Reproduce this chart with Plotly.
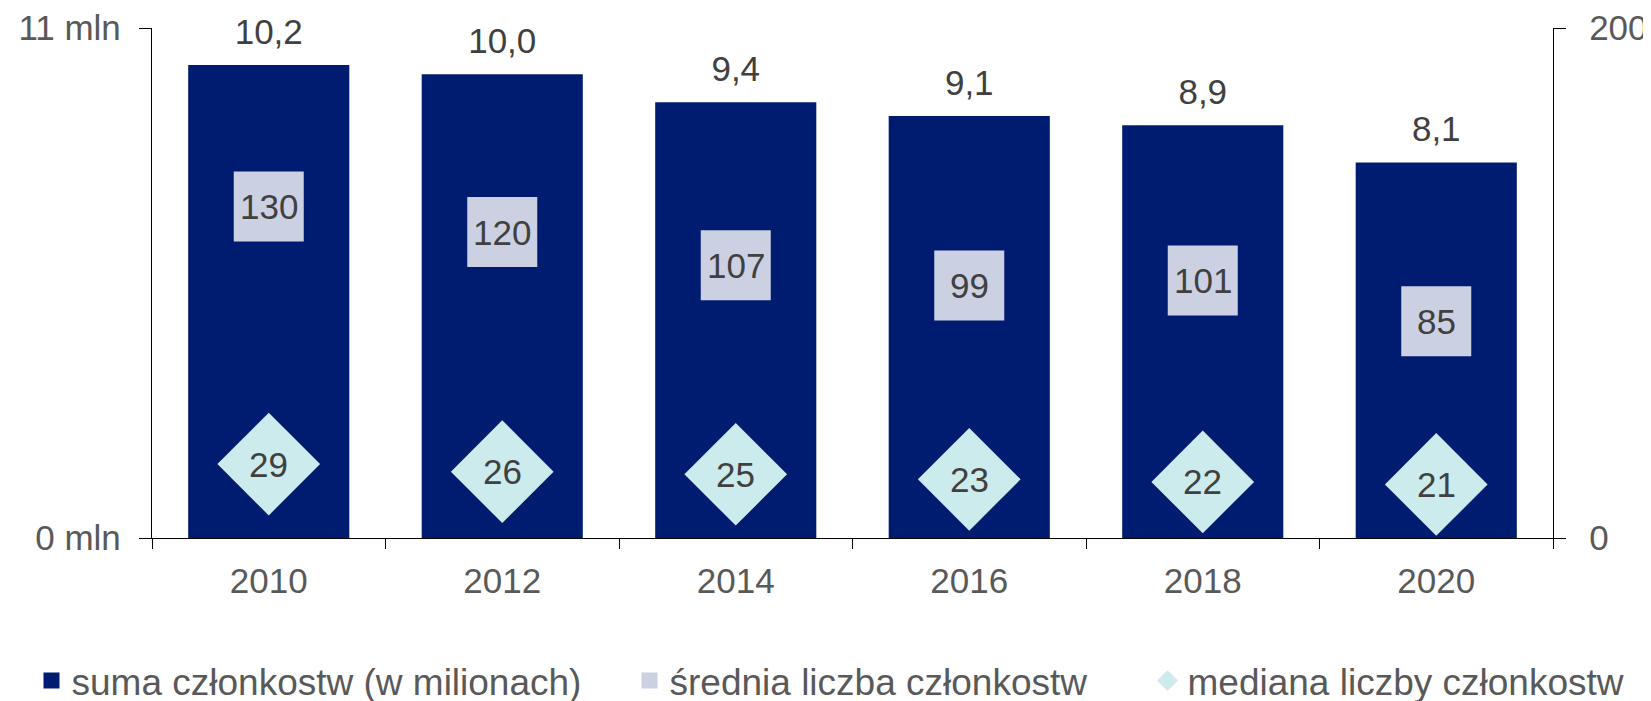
import plotly.graph_objects as go

years = ["2010", "2012", "2014", "2016", "2018", "2020"]
total_mln = [10.2, 10.0, 9.4, 9.1, 8.9, 8.1]
average = [130, 120, 107, 99, 101, 85]
median = [29, 26, 25, 23, 22, 21]

left_ticks = [0, 11]
left_ticktext = ["0 mln", "11 mln"]
right_ticks = [0, 200]

names = ["suma członkostw (w milionach)", "średnia liczba członkostw", "mediana liczby członkostw"]

NAVY = "#001C71"
LAV = "#CCD0E3"
MINT = "#CCEBEC"
LABEL = "#404040"
TICK = "#595959"
FONT = "Liberation Sans, Arial, sans-serif"

# page body has an 8px default margin; size the figure so it fills the 1651x701 window
OFF = 8
W, H = 1651 - OFF, 701 - OFF

fig = go.Figure()

fig.add_trace(go.Bar(
    x=years, y=total_mln, marker=dict(color=NAVY, line=dict(width=0)),
    width=0.69, showlegend=False, yaxis="y", hoverinfo="skip"))

# value labels above bars
fig.add_trace(go.Scatter(
    x=years, y=total_mln, yaxis="y", mode="markers+text",
    marker=dict(size=18, opacity=0, color=NAVY),
    text=[f"{v:.1f}".replace(".", ",") for v in total_mln],
    textposition="top center", cliponaxis=False, showlegend=False,
    textfont=dict(size=35, color=LABEL, family=FONT), hoverinfo="skip"))

# legend proxy for bars
fig.add_trace(go.Scatter(
    x=[None], y=[None], mode="markers", name=names[0],
    marker=dict(symbol="square", size=16, color=NAVY), legend="legend"))

fig.add_trace(go.Scatter(
    x=years, y=average, yaxis="y2", mode="markers", name=names[1],
    marker=dict(symbol="square", size=70, color=LAV, line=dict(width=0)),
    cliponaxis=False, legend="legend2", hoverinfo="skip"))

fig.add_trace(go.Scatter(
    x=years, y=median, yaxis="y2", mode="markers", name=names[2],
    marker=dict(symbol="diamond", size=79, color=MINT, line=dict(width=0)),
    cliponaxis=False, legend="legend3", hoverinfo="skip"))

annotations = []
for i, (a, m) in enumerate(zip(average, median)):
    for v in (a, m):
        annotations.append(dict(
            x=i, y=v, xref="x", yref="y2", text=str(v), showarrow=False,
            xanchor="center", yanchor="middle", yshift=0,
            font=dict(size=35, color=LABEL, family=FONT)))

leg_common = dict(orientation="h", yanchor="middle", y=1 - (681 - OFF) / H, xanchor="left",
                  xref="container", yref="container",
                  font=dict(size=37, color=TICK, family=FONT),
                  bgcolor="rgba(0,0,0,0)", borderwidth=0)

fig.update_layout(
    width=W, height=H,
    margin=dict(l=152 - OFF, r=98, t=28 - OFF, b=163, autoexpand=False),
    paper_bgcolor="white", plot_bgcolor="white",
    font=dict(family=FONT, color=TICK, size=35),
    showlegend=True,
    annotations=annotations,
    xaxis=dict(
        type="category", range=[-0.5, 5.5], showgrid=False,
        showline=True, linecolor="black", linewidth=1.3,
        ticks="outside", tickson="boundaries", ticklen=10, tickcolor="black",
        tickwidth=1.3, tickfont=dict(size=35, color=TICK, family=FONT),
        ticklabelstandoff=12, zeroline=False),
    yaxis=dict(
        range=[0, 11], tickvals=left_ticks, ticktext=left_ticktext,
        showgrid=False, zeroline=False, showline=True, linecolor="black",
        linewidth=1.3, ticks="outside", ticklen=12, tickcolor="black", tickwidth=1.3,
        tickfont=dict(size=35, color=TICK, family=FONT), ticklabelstandoff=11),
    yaxis2=dict(
        range=[0, 200], tickvals=right_ticks, overlaying="y", side="right",
        showgrid=False, zeroline=False, showline=True, linecolor="black",
        linewidth=1.3, ticks="outside", ticklen=12, tickcolor="black", tickwidth=1.3,
        tickfont=dict(size=35, color=TICK, family=FONT), ticklabelstandoff=16),
    legend=dict(x=(51.5 - 20 - OFF) / W, **leg_common),
    legend2=dict(x=(649.5 - 20 - OFF) / W, **leg_common),
    legend3=dict(x=(1167.5 - 20 - OFF) / W, **leg_common),
)

fig.write_html("out.html")
